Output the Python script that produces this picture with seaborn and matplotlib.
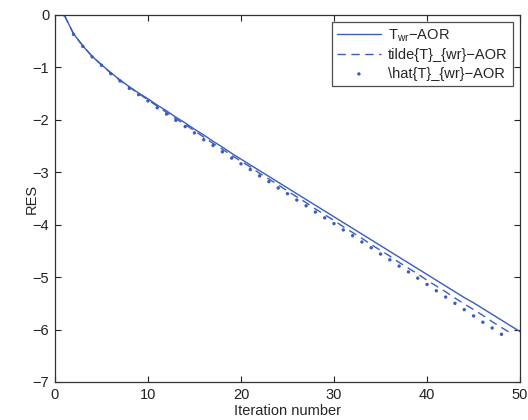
import numpy as np
import pandas as pd
import seaborn as sns
import matplotlib
matplotlib.use('Agg')
import matplotlib.pyplot as plt

# residual curves
iter_solid = list(range(1, 51))
res_solid = [0.00, -0.36, -0.59, -0.79, -0.95, -1.10, -1.24, -1.37, -1.49, -1.60,
             -1.72, -1.83, -1.95, -2.06, -2.18, -2.29, -2.41, -2.52, -2.64, -2.75,
             -2.86, -2.97, -3.08, -3.19, -3.30, -3.41, -3.52, -3.63, -3.74, -3.85,
             -3.96, -4.07, -4.18, -4.29, -4.40, -4.51, -4.62, -4.73, -4.84, -4.95,
             -5.06, -5.17, -5.28, -5.39, -5.49, -5.60, -5.71, -5.82, -5.93, -6.04]

iter_dashed = list(range(1, 50))
res_dashed = [0.00, -0.36, -0.59, -0.79, -0.95, -1.11, -1.25, -1.38, -1.50, -1.62,
              -1.74, -1.86, -1.98, -2.09, -2.21, -2.33, -2.45, -2.56, -2.68, -2.79,
              -2.90, -3.02, -3.13, -3.24, -3.36, -3.47, -3.58, -3.70, -3.81, -3.92,
              -4.04, -4.15, -4.26, -4.38, -4.49, -4.60, -4.72, -4.83, -4.94, -5.06,
              -5.17, -5.28, -5.40, -5.51, -5.62, -5.73, -5.85, -5.96, -6.07]

iter_dots = list(range(1, 49))
res_dots = [0.00, -0.37, -0.60, -0.80, -0.96, -1.12, -1.26, -1.40, -1.52, -1.64,
            -1.77, -1.89, -2.01, -2.13, -2.25, -2.38, -2.49, -2.61, -2.73, -2.84,
            -2.95, -3.07, -3.18, -3.30, -3.41, -3.53, -3.64, -3.76, -3.87, -3.98,
            -4.10, -4.21, -4.33, -4.44, -4.56, -4.67, -4.79, -4.90, -5.02, -5.14,
            -5.26, -5.38, -5.50, -5.62, -5.74, -5.86, -5.97, -6.09]

labels = [r'T$_{\mathregular{wr}}$$\mathregular{-}$AOR',
          'tilde{T}_{wr}\u2212AOR',
          '\\hat{T}_{wr}\u2212AOR']

x_ticks = [0, 10, 20, 30, 40, 50]
y_ticks = [-7, -6, -5, -4, -3, -2, -1, 0]

BLUE = '#3a5cbf'

sns.set_style('ticks')
plt.rcParams['font.family'] = ['Liberation Sans', 'DejaVu Sans']
plt.rcParams['mathtext.fontset'] = 'custom'
plt.rcParams['mathtext.rm'] = 'Liberation Sans'

fig = plt.figure(figsize=(5.28, 4.2), dpi=100)
ax = fig.add_axes([0.104, 0.0905, 0.881, 0.874])

sns.lineplot(x=iter_solid, y=res_solid, ax=ax, color=BLUE, linewidth=1.0,
             label=labels[0])
sns.lineplot(x=iter_dashed, y=res_dashed, ax=ax, color=BLUE, linewidth=1.0,
             linestyle=(0, (6, 4)), label=labels[1])
sns.scatterplot(x=iter_dots, y=res_dots, ax=ax, color=BLUE, s=6,
                edgecolor='none', label=labels[2])

ax.set_xlim(0, 50)
ax.set_ylim(-7, 0)
ax.set_xticks(x_ticks)
ax.set_yticks(y_ticks)
ax.set_yticklabels([str(v).replace('-', '\u2212') for v in y_ticks])
ax.tick_params(direction='in', length=4, width=0.8, top=True, right=True,
               labelsize=10.5, colors='#222222', pad=4)
for sp in ax.spines.values():
    sp.set_visible(True)
    sp.set_linewidth(0.9)
    sp.set_color('#333333')

ax.set_xlabel('Iteration number', fontsize=10.5, labelpad=2)
ax.set_ylabel('RES', fontsize=10.5)
ax.yaxis.set_label_coords(-0.035, 0.5)

leg = ax.legend(loc='upper right', fontsize=10.5, frameon=True, fancybox=False,
                edgecolor='#222222', handlelength=3.0, handletextpad=0.5,
                borderpad=0.35, labelspacing=0.3, borderaxespad=0.5,
                markerscale=1.0)
leg.get_frame().set_linewidth(0.9)

fig.savefig('out.png', dpi=100)
